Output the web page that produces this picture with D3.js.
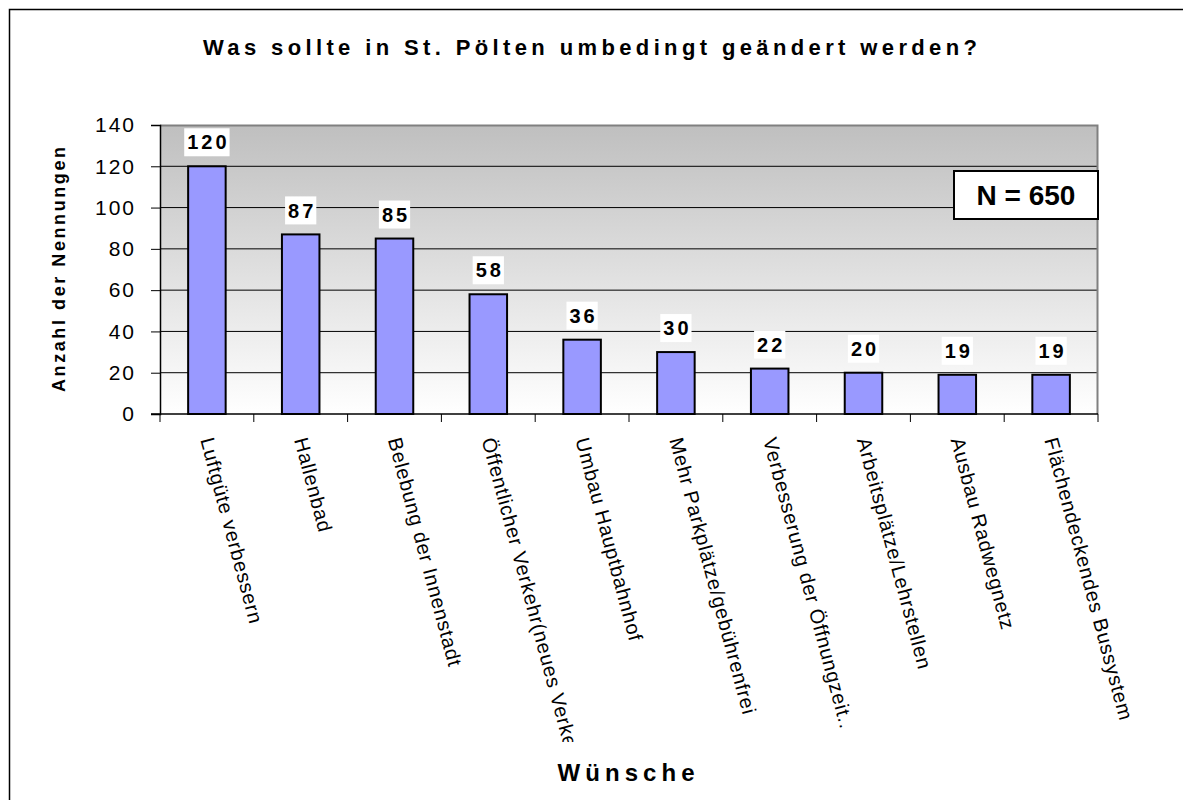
<!DOCTYPE html>
<html>
<head>
<meta charset="utf-8">
<script src="https://cdn.jsdelivr.net/npm/d3@7"></script>
<style>
  body { margin: 0; background: #fff; }
  svg { display: block; font-family: Arial, "Liberation Sans", sans-serif; }
</style>
</head>
<body>
<svg id="canvas"></svg>
<script>
let categories = ['Luftgüte verbessern', 'Hallenbad', 'Belebung der Innenstadt',
  'Öffentlicher Verkehr(neues Verkehrskonzept)', 'Umbau Hauptbahnhof',
  'Mehr Parkplätze/gebührenfrei', 'Verbesserung der Öffnungzeit..',
  'Arbeitsplätze/Lehrstellen', 'Ausbau Radwegnetz', 'Flächendeckendes Bussystem']
let values = [120, 87, 85, 58, 36, 30, 22, 20, 19, 19]
let yTicks = [0, 20, 40, 60, 80, 100, 120, 140]
let title = 'Was sollte in St. Pölten umbedingt geändert werden?'
let yTitle = 'Anzahl der Nennungen'
let xTitle = 'Wünsche'
let nLabel = 'N = 650'

let width = 1183
let height = 800
let plot = {left: 160, right: 1098, top: 125, bottom: 414}

let svg = d3.select('#canvas').attr('width', width).attr('height', height)

// outer chart frame (runs off the picture at right and bottom)
svg.append('rect')
  .attr('x', 9.5).attr('y', 9.5)
  .attr('width', 1200).attr('height', 820)
  .attr('fill', '#fff')
  .attr('stroke', '#000').attr('stroke-width', 1.5)

let xScale = d3.scaleBand()
  .domain(categories)
  .range([plot.left, plot.right])

let yScale = d3.scaleLinear()
  .domain([0, 140])
  .range([plot.bottom, plot.top])

// grey-to-white plot background
let grad = svg.append('defs').append('linearGradient')
  .attr('id', 'bg').attr('x1', 0).attr('y1', 0).attr('x2', 0).attr('y2', 1)
grad.append('stop').attr('offset', '0%').attr('stop-color', '#bfbfbf')
grad.append('stop').attr('offset', '100%').attr('stop-color', '#ffffff')

svg.select('defs').append('clipPath').attr('id', 'labelClip')
  .append('rect').attr('x', 0).attr('y', 0).attr('width', width).attr('height', 742)

svg.append('rect')
  .attr('x', plot.left).attr('y', plot.top)
  .attr('width', plot.right - plot.left).attr('height', plot.bottom - plot.top)
  .attr('fill', 'url(#bg)')

// gridlines
svg.append('g')
  .selectAll('line')
  .data(yTicks.filter(d => d > 0 && d < 140))
  .enter()
  .append('line')
  .attr('x1', plot.left).attr('x2', plot.right)
  .attr('y1', d => yScale(d)).attr('y2', d => yScale(d))
  .attr('stroke', '#000').attr('stroke-width', 1)

// plot border top + right
svg.append('path')
  .attr('d', 'M' + plot.left + ',' + (plot.top + 0.5) + 'H' + (plot.right - 0.5) + 'V' + plot.bottom)
  .attr('fill', 'none').attr('stroke', '#808080').attr('stroke-width', 2)

// y axis
let yAxis = d3.axisLeft(yScale).tickValues(yTicks).tickSize(9).tickPadding(15)
let yG = svg.append('g')
  .attr('transform', 'translate(' + plot.left + ',0)')
  .call(yAxis)
yG.select('.domain').attr('stroke', '#000').attr('stroke-width', 1.5)
yG.selectAll('.tick line').attr('stroke', '#000')
yG.selectAll('.tick text')
  .attr('fill', '#000')
  .style('font-size', '21px')
  .style('letter-spacing', '2px')
  .attr('font-family', null)

// x axis: ticks on the category borders
let xG = svg.append('g')
svg.append('line')
  .attr('x1', plot.left - 9).attr('x2', plot.right)
  .attr('y1', plot.bottom).attr('y2', plot.bottom)
  .attr('stroke', '#000').attr('stroke-width', 1.5)
xG.selectAll('line')
  .data(categories.map((c, i) => i).concat([categories.length]))
  .enter()
  .append('line')
  .attr('x1', i => plot.left + i * xScale.step())
  .attr('x2', i => plot.left + i * xScale.step())
  .attr('y1', plot.bottom).attr('y2', plot.bottom + 8)
  .attr('stroke', '#000')

// bars
let barW = xScale.bandwidth() * 0.4
svg.append('g')
  .selectAll('rect')
  .data(values)
  .enter()
  .append('rect')
  .attr('x', (d, i) => xScale(categories[i]) + xScale.bandwidth() / 2 - barW / 2)
  .attr('y', d => yScale(d))
  .attr('width', barW)
  .attr('height', d => yScale(0) - yScale(d))
  .attr('fill', '#9999ff')
  .attr('stroke', '#000').attr('stroke-width', 2)

// value labels with white boxes
let valG = svg.append('g')
values.forEach((v, i) => {
  let cx = xScale(categories[i]) + xScale.bandwidth() / 2
  let cy = yScale(v) - 24
  let box = valG.append('rect').attr('fill', '#fff')
  let t = valG.append('text')
    .attr('x', cx + 1.5).attr('y', cy)
    .attr('text-anchor', 'middle')
    .attr('dy', '0.36em')
    .style('font-size', '20px').style('font-weight', 'bold')
    .style('letter-spacing', '3px')
    .text(v)
  let bb = t.node().getBBox()
  box.attr('x', cx - (bb.width - 3) / 2 - 3).attr('y', cy - 14)
    .attr('width', bb.width - 3 + 6).attr('height', 28)
})

// category labels, rotated
svg.append('g')
  .attr('clip-path', 'url(#labelClip)')
  .selectAll('text')
  .data(categories)
  .enter()
  .append('text')
  .attr('transform', d => 'translate(' + (xScale(d) + xScale.bandwidth() / 2) + ',' + (plot.bottom + 24) + ') rotate(75)')
  .attr('dy', '0.35em')
  .style('font-size', '20px')
  .style('letter-spacing', '0.8px')
  .text(d => d)

// N box
svg.append('rect')
  .attr('x', 954).attr('y', 171).attr('width', 144).attr('height', 48)
  .attr('fill', '#fff').attr('stroke', '#000').attr('stroke-width', 2)
svg.append('text')
  .attr('x', 1026).attr('y', 195).attr('dy', '0.36em')
  .attr('text-anchor', 'middle')
  .style('font-size', '28px').style('font-weight', 'bold')
  .text(nLabel)

// titles
svg.append('text')
  .attr('x', 590).attr('y', 55)
  .attr('text-anchor', 'middle')
  .attr('textLength', 774).attr('lengthAdjust', 'spacing')
  .style('font-size', '22px').style('font-weight', 'bold')
  .text(title)

svg.append('text')
  .attr('transform', 'translate(65,' + ((plot.top + plot.bottom) / 2) + ') rotate(-90)')
  .attr('text-anchor', 'middle')
  .attr('textLength', 245).attr('lengthAdjust', 'spacing')
  .style('font-size', '18px').style('font-weight', 'bold')
  .text(yTitle)

svg.append('text')
  .attr('x', 626).attr('y', 781)
  .attr('text-anchor', 'middle')
  .attr('textLength', 137).attr('lengthAdjust', 'spacing')
  .style('font-size', '24px').style('font-weight', 'bold')
  .text(xTitle)
</script>
</body>
</html>
